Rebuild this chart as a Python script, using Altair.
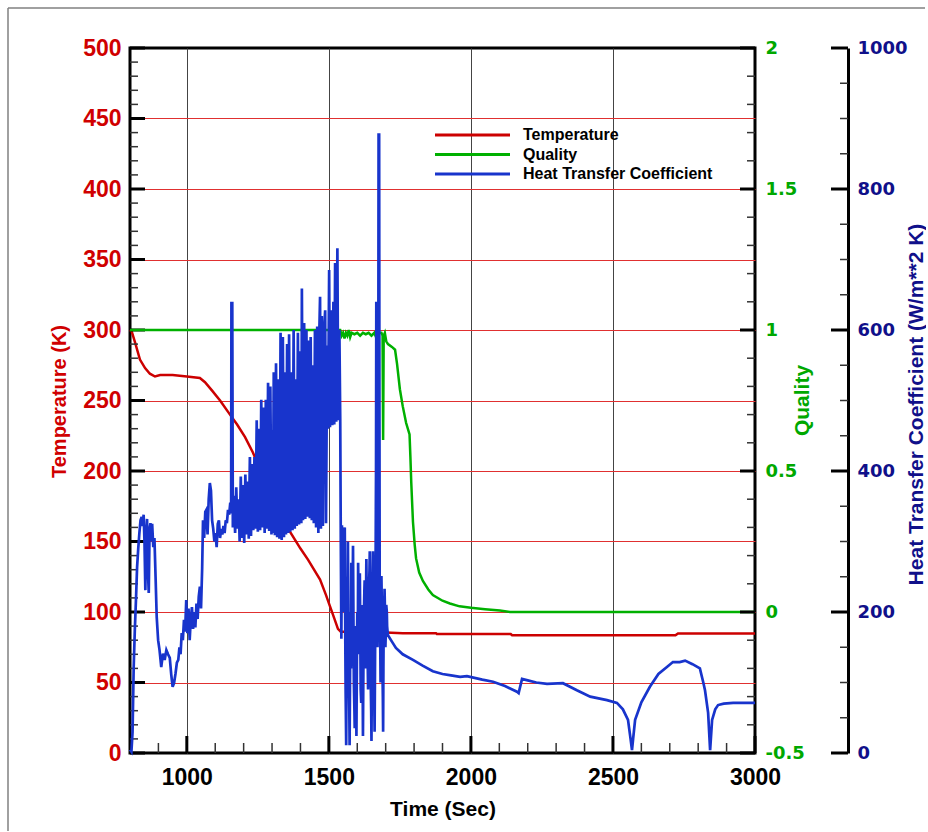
import altair as alt
import pandas as pd

W, H = 625, 705
FONT = "Liberation Sans"
WFONT = "DejaVu Sans"

# ---------------- data ----------------
temp_t = [800, 806, 818, 835, 853, 870, 888, 906, 950, 1000, 1046, 1064, 1089, 1117, 1152, 1177,
          1205, 1233, 1260, 1300, 1340, 1363, 1400, 1427, 1469, 1490, 1504, 1520, 1532, 1542,
          1600, 1700, 1760, 1877, 1880, 2140, 2145, 2720, 2729, 3000]
temp_v = [300, 299, 291, 279, 273, 269, 267, 268, 268, 267, 266, 263, 257, 250, 240, 233,
          224, 213, 200, 182, 166, 157, 145, 137, 123, 112, 104, 95, 88, 86,
          86, 85.5, 85, 85, 84.4, 84.4, 83.5, 83.5, 84.8, 84.8]

qual_t = [800, 1540, 1545, 1550, 1555, 1560, 1565, 1570, 1575, 1580, 1590, 1600, 1610, 1620, 1630,
          1640, 1650, 1660, 1668, 1672, 1676, 1685, 1689, 1691, 1693, 1697, 1702, 1708, 1722,
          1733, 1740, 1750, 1760, 1772, 1784, 1787, 1790, 1796, 1802, 1807, 1818, 1831, 1850,
          1866, 1900, 1926, 1960, 2000, 2050, 2102, 2138, 3000]
qual_v = [1.0, 1.0, 0.98, 0.99, 0.97, 0.99, 0.98, 1.0, 0.975, 0.99, 0.985, 0.99, 0.98, 0.99, 0.985,
          0.99, 0.98, 0.99, 0.97, 0.92, 0.99, 0.99, 0.98, 0.61, 0.98, 0.99, 0.96, 0.95, 0.94,
          0.93, 0.88, 0.79, 0.73, 0.67, 0.63, 0.55, 0.46, 0.32, 0.24, 0.19, 0.14, 0.11, 0.08,
          0.06, 0.04, 0.03, 0.02, 0.015, 0.01, 0.005, 0.0, 0.0]

htc_rise = [(800, 5), (805, 2), (809, 30), (813, 122), (817, 175), (821, 217), (825, 264), (829, 290),
            (833, 312), (837, 330), (841, 335), (845, 322), (848, 338), (851, 300), (854, 231),
            (857, 310), (860, 332), (863, 260), (866, 227), (869, 318), (872, 326), (875, 300),
            (878, 325), (882, 292), (886, 305), (890, 250), (894, 193), (899, 160), (904, 146),
            (910, 122), (916, 141), (922, 132), (928, 146), (934, 140), (940, 135), (945, 112),
            (950, 94), (955, 99), (960, 112), (965, 128), (970, 132), (974, 150), (978, 140),
            (982, 170), (986, 160), (990, 189), (994, 172), (998, 217), (1002, 170), (1006, 205),
            (1010, 160), (1014, 190), (1018, 207), (1022, 176), (1026, 200), (1030, 178),
            (1034, 212), (1038, 190), (1042, 222), (1046, 236), (1050, 205), (1054, 262),
            (1057, 330), (1061, 305), (1065, 342), (1069, 345), (1073, 310), (1077, 360),
            (1081, 383), (1085, 372), (1089, 330), (1093, 318), (1097, 300), (1101, 312),
            (1105, 292), (1109, 325), (1113, 330), (1117, 305), (1121, 318), (1125, 310),
            (1129, 322), (1133, 312), (1137, 330), (1141, 326), (1145, 345), (1149, 338),
            (1153, 355), (1156, 340), (1157, 638), (1160, 638)]

htc_band = [(1162, 320), (1166, 365), (1170, 312), (1174, 377), (1178, 318), (1182, 360), (1186, 300),
            (1190, 392), (1194, 305), (1198, 380), (1202, 298), (1206, 395), (1210, 310), (1214, 385),
            (1218, 304), (1222, 420), (1226, 308), (1230, 410), (1234, 316), (1238, 420), (1242, 318),
            (1246, 472), (1250, 314), (1254, 460), (1258, 316), (1262, 501), (1266, 320), (1270, 490),
            (1274, 312), (1278, 501), (1282, 318), (1286, 525), (1290, 315), (1294, 520), (1298, 310),
            (1300, 458), (1303, 312), (1306, 540), (1310, 309), (1314, 553), (1318, 306), (1322, 530),
            (1326, 304), (1330, 596), (1334, 302), (1338, 590), (1342, 306), (1345, 540), (1349, 310),
            (1353, 580), (1357, 312), (1360, 594), (1364, 314), (1368, 540), (1372, 316), (1376, 600),
            (1380, 318), (1383, 530), (1387, 322), (1391, 596), (1395, 324), (1399, 570), (1403, 326),
            (1405, 659), (1409, 330), (1413, 610), (1417, 332), (1421, 600), (1425, 335), (1429, 585),
            (1433, 333), (1436, 590), (1440, 330), (1443, 550), (1447, 326), (1451, 600), (1455, 320),
            (1459, 605), (1463, 312), (1466, 590), (1469, 647), (1472, 318), (1475, 620), (1479, 322),
            (1483, 600), (1487, 628), (1490, 326), (1494, 578), (1497, 460), (1501, 685), (1504, 462),
            (1508, 628), (1512, 465), (1516, 640), (1519, 466), (1522, 695), (1526, 470), (1530, 716),
            (1533, 472), (1537, 600), (1540, 475)]

htc_drop = [(1542, 300), (1544, 162), (1546, 323), (1548, 250), (1550, 318), (1552, 200), (1554, 310),
            (1556, 320), (1558, 150), (1559, 89), (1561, 11), (1563, 180), (1564, 250), (1566, 200),
            (1567, 300), (1569, 180), (1570, 120), (1572, 60), (1573, 11), (1575, 140), (1576, 200),
            (1578, 120), (1579, 270), (1581, 210), (1582, 150), (1584, 240), (1585, 294), (1587, 160),
            (1588, 100), (1590, 60), (1591, 35), (1593, 140), (1594, 180), (1596, 90), (1597, 24),
            (1599, 150), (1600, 200), (1602, 160), (1603, 270), (1605, 200), (1606, 140), (1608, 220),
            (1609, 255), (1611, 150), (1612, 90), (1614, 71), (1616, 180), (1617, 210), (1619, 100),
            (1620, 24), (1622, 150), (1623, 190), (1625, 230), (1626, 245), (1628, 170), (1629, 120),
            (1631, 230), (1632, 275), (1634, 200), (1635, 150), (1637, 120), (1638, 90), (1640, 190),
            (1641, 230), (1643, 260), (1644, 286), (1646, 180), (1647, 110), (1649, 60), (1650, 17),
            (1652, 150), (1653, 200), (1654, 250), (1655, 286), (1657, 190), (1658, 130), (1660, 70),
            (1661, 30), (1663, 160), (1664, 220), (1666, 400), (1667, 640), (1668, 380), (1669, 200),
            (1671, 150), (1672, 210), (1673, 260), (1674, 500), (1675, 877), (1677, 877), (1678, 500),
            (1679, 200), (1681, 150), (1682, 100), (1684, 200), (1685, 251), (1687, 190), (1688, 140),
            (1690, 80), (1691, 30), (1692, 120), (1693, 180), (1695, 210), (1696, 233), (1698, 190),
            (1699, 150), (1701, 180), (1702, 210), (1704, 200), (1705, 180), (1706, 175), (1708, 167)]

htc_tail = [(1722, 158), (1736, 149), (1760, 140), (1796, 132), (1830, 124), (1866, 116), (1900, 112),
            (1930, 110), (1962, 108), (1986, 109), (2040, 104), (2078, 101), (2120, 95), (2162, 87),
            (2168, 85), (2180, 105), (2200, 103), (2230, 100), (2268, 98), (2324, 99), (2373, 89),
            (2420, 80), (2479, 75), (2514, 71), (2535, 62), (2553, 47), (2562, 20), (2567, 4),
            (2571, 20), (2578, 47), (2600, 72), (2630, 94), (2660, 112), (2690, 122), (2711, 129),
            (2735, 129), (2754, 131), (2780, 126), (2806, 120), (2818, 100), (2824, 89), (2835, 57),
            (2842, 4), (2849, 47), (2860, 62), (2870, 68), (2890, 70), (2923, 71), (3000, 71)]

legend_names = ["Temperature", "Quality", "Heat Transfer Coefficient"]
legend_colors = ["#cc0000", "#00b000", "#1834cc"]

x_major = [1000, 1500, 2000, 2500, 3000]
temp_major = [0, 50, 100, 150, 200, 250, 300, 350, 400, 450, 500]
qual_major = [-0.5, 0, 0.5, 1, 1.5, 2]
htc_major = [0, 200, 400, 600, 800, 1000]
x_minor = [t for t in range(900, 3000, 100) if t % 500 != 0]
temp_minor = [v for v in range(0, 501, 10) if v % 50 != 0]
qual_minor = [round(-0.5 + 0.1 * k, 1) for k in range(26) if k % 5 != 0]
htc_minor = [v for v in range(0, 1001, 50) if v % 200 != 0]

# ---------------- frames ----------------
temp_df = pd.DataFrame({"t": temp_t, "v": temp_v})
temp_df["i"] = range(len(temp_df))
qual_df = pd.DataFrame({"t": qual_t, "v": qual_v})
qual_df["i"] = range(len(qual_df))
htc_pts = htc_rise + htc_band + htc_drop + htc_tail
htc_df = pd.DataFrame(htc_pts, columns=["t", "v"])
htc_df["i"] = range(len(htc_df))

xscale = alt.Scale(domain=[800, 3000], nice=False, zero=False)
tscale = alt.Scale(domain=[0, 500], nice=False, zero=False)
qscale = alt.Scale(domain=[-0.5, 2], nice=False, zero=False)
hscale = alt.Scale(domain=[0, 1000], nice=False, zero=False)

x_axis = alt.Axis(values=x_major, format="d", grid=True, gridColor="#444444", gridWidth=1,
                  gridOpacity={"condition": {"test": "datum.value === 3000", "value": 0}, "value": 1},
                  ticks=False, domain=False, labelFont=FONT, labelFontSize=23, labelFontWeight="bold",
                  labelColor="black", labelPadding=13, labelFlush=False, title="Time (Sec)",
                  titleFont=FONT, titleFontSize=21, titleFontWeight="bold", titleColor="black",
                  titlePadding=9)

# ---------------- temperature group ----------------
temp_line = alt.Chart(temp_df).mark_line(color="#cc0000", strokeWidth=2.5).encode(
    x=alt.X("t:Q", scale=xscale, axis=x_axis),
    y=alt.Y("v:Q", scale=tscale, axis=alt.Axis(
        orient="left", values=temp_major, format="d", grid=True, gridColor="#e03030", gridWidth=1,
        gridOpacity={"condition": {"test": "datum.value === 500 || datum.value === 0", "value": 0},
                     "value": 1},
        ticks=False, domain=False, labelFont=FONT, labelFontSize=23, labelFontWeight="bold",
        labelColor="#d00000", labelPadding=9, title="Temperature (K)", titleFont=FONT,
        titleFontSize=20, titleFontWeight="bold", titleColor="#d00000", titleAngle=270,
        titleX=-65, titleY=353, titleAlign="center", titleBaseline="alphabetic")),
    order="i:Q",
)

left_major = alt.Chart(pd.DataFrame({"v": temp_major})).mark_rule(color="black", strokeWidth=3).encode(
    y=alt.Y("v:Q", scale=tscale, axis=None), x=alt.value(0), x2=alt.value(15))
left_minor = alt.Chart(pd.DataFrame({"v": temp_minor})).mark_rule(color="#333333", strokeWidth=1.5).encode(
    y=alt.Y("v:Q", scale=tscale, axis=None), x=alt.value(0), x2=alt.value(8))
bot_major = alt.Chart(pd.DataFrame({"t": x_major})).mark_rule(color="black", strokeWidth=3).encode(
    x=alt.X("t:Q", scale=xscale, axis=None), y=alt.value(H), y2=alt.value(H - 17))
bot_minor = alt.Chart(pd.DataFrame({"t": x_minor})).mark_rule(color="#333333", strokeWidth=1.5).encode(
    x=alt.X("t:Q", scale=xscale, axis=None), y=alt.value(H), y2=alt.value(H - 10))

temp_group = alt.layer(temp_line, left_major, left_minor, bot_major, bot_minor).resolve_axis(
    x="independent", y="independent")

# ---------------- quality group ----------------
qual_line = alt.Chart(qual_df).mark_line(color="#00b000", strokeWidth=2.5).encode(
    x=alt.X("t:Q", scale=xscale, axis=None),
    y=alt.Y("v:Q", scale=qscale, axis=alt.Axis(
        orient="right", values=qual_major, labelExpr="toString(datum.value)", grid=False,
        ticks=False, domain=False, labelFont=WFONT, labelFontSize=18, labelFontWeight="bold",
        labelColor="#00a800", labelPadding=10, title="Quality", titleFont=FONT,
        titleFontSize=21, titleFontWeight="bold", titleColor="#00a800", titleAngle=270,
        titleX=53, titleY=352, titleAlign="center", titleBaseline="alphabetic")),
    order="i:Q",
)
q_major = alt.Chart(pd.DataFrame({"v": qual_major})).mark_rule(color="black", strokeWidth=3).encode(
    y=alt.Y("v:Q", scale=qscale, axis=None), x=alt.value(W - 15), x2=alt.value(W))
q_minor = alt.Chart(pd.DataFrame({"v": qual_minor})).mark_rule(color="#333333", strokeWidth=1.5).encode(
    y=alt.Y("v:Q", scale=qscale, axis=None), x=alt.value(W - 8), x2=alt.value(W))
qual_group = alt.layer(qual_line, q_major, q_minor).resolve_axis(x="independent", y="independent")

# ---------------- heat transfer coefficient group ----------------
OFF = 93
htc_line = alt.Chart(htc_df).mark_line(color="#1834cc", strokeWidth=2.7).encode(
    x=alt.X("t:Q", scale=xscale, axis=None),
    y=alt.Y("v:Q", scale=hscale, axis=alt.Axis(
        orient="right", offset=OFF, values=htc_major, format="d", grid=False, ticks=False,
        domain=True, domainColor="black", domainWidth=3, labelFont=WFONT, labelFontSize=18,
        labelFontWeight="bold", labelColor="#10108a", labelPadding=9,
        title="Heat Transfer Coefficient (W/m**2 K)", titleFont=FONT, titleFontSize=21,
        titleFontWeight="bold", titleColor="#10108a", titleAngle=270, titleX=74, titleY=356,
        titleAlign="center", titleBaseline="alphabetic")),
    order="i:Q",
)
h_major = alt.Chart(pd.DataFrame({"v": htc_major})).mark_rule(color="black", strokeWidth=3).encode(
    y=alt.Y("v:Q", scale=hscale, axis=None), x=alt.value(W + OFF - 17), x2=alt.value(W + OFF))
h_minor = alt.Chart(pd.DataFrame({"v": htc_minor})).mark_rule(color="#333333", strokeWidth=1.5).encode(
    y=alt.Y("v:Q", scale=hscale, axis=None), x=alt.value(W + OFF - 8), x2=alt.value(W + OFF))
htc_group = alt.layer(htc_line, h_major, h_minor).resolve_axis(x="independent", y="independent")

# ---------------- legend and outer frame ----------------
legend_layers = []
for k, (name, col) in enumerate(zip(legend_names, legend_colors)):
    ldf = pd.DataFrame({"label": [name]})
    yk = 87 + 19.5 * k
    legend_layers.append(alt.Chart(ldf).mark_rule(strokeWidth=3, color=col).encode(
        x=alt.value(305), x2=alt.value(380), y=alt.value(yk)))
    legend_layers.append(alt.Chart(ldf).mark_text(
        align="left", baseline="middle", font=FONT, fontSize=16, fontWeight="bold",
        color="black").encode(x=alt.value(393), y=alt.value(yk), text="label:N"))

frame_df = pd.DataFrame({"k": [0]})
frame_left = alt.Chart(frame_df).mark_rule(color="#808080", strokeWidth=1.5).encode(
    x=alt.value(-122), y=alt.value(-40), y2=alt.value(H + 78))
frame_top = alt.Chart(frame_df).mark_rule(color="#808080", strokeWidth=1.5).encode(
    x=alt.value(-122), x2=alt.value(795), y=alt.value(-40))
legend_group = alt.layer(*legend_layers, frame_left, frame_top)

chart = alt.layer(temp_group, qual_group, htc_group, legend_group).resolve_scale(
    y="independent"
).resolve_axis(x="independent", y="independent").properties(
    width=W, height=H, background="white",
    padding={"left": 7, "top": 7, "right": 0, "bottom": 0},
).configure_view(stroke="black", strokeWidth=3)

chart.save("out.html", embed_options={"renderer": "svg", "actions": False})
